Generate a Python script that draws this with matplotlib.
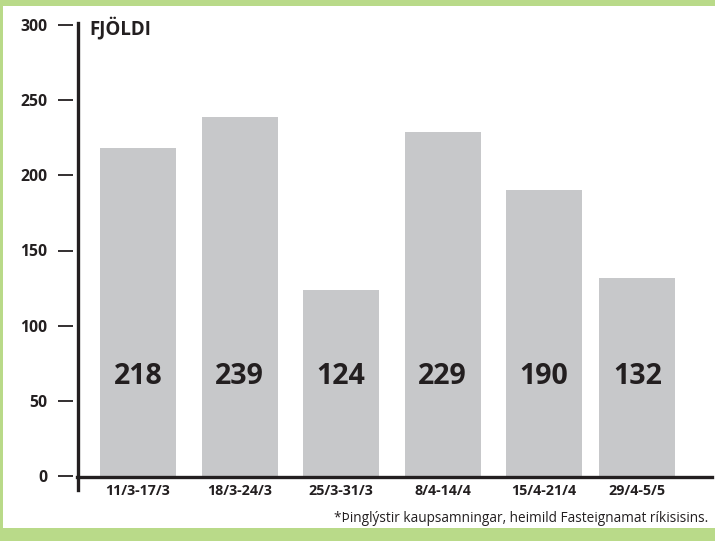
import numpy as np
import matplotlib
matplotlib.use("Agg")
import matplotlib.pyplot as plt
from matplotlib.patches import Rectangle
from matplotlib.lines import Line2D

categories = ["11/3-17/3", "18/3-24/3", "25/3-31/3", "8/4-14/4", "15/4-21/4", "29/4-5/5"]
values = [218, 239, 124, 229, 190, 132]
yticks = [0, 50, 100, 150, 200, 250, 300]
ylabel = "FJÖLDI"
footnote = "*Þinglýstir kaupsamningar, heimild Fasteignamat ríkisisins."

plt.rcParams['font.family'] = ['Open Sans', 'DejaVu Sans']

W, H = 715, 541
fig = plt.figure(figsize=(W / 100, H / 100), dpi=100)
green = "#b9da89"
ink = "#231f20"
fig.patch.set_facecolor(green)
fig.add_artist(Rectangle((3 / W, 1 - 528 / H), (W - 3) / W, (528 - 6) / H,
                         transform=fig.transFigure, facecolor="white", edgecolor="none", zorder=0))

def fx(px):
    return px / W

def fy(py):
    return 1 - py / H

ax_l, ax_r, ax_t, ax_b = 78, 712, 25, 476
ax = fig.add_axes([fx(ax_l), fy(ax_b), (ax_r - ax_l) / W, (ax_b - ax_t) / H])
ax.patch.set_alpha(0)

step = 101.5
pos = np.arange(len(values), dtype=float)
pos[-1] -= 0.08
ax.bar(pos, values, width=76 / step, color="#c7c8ca", zorder=1)
ax.set_xlim(-(138 - ax_l) / step, (ax_r - 138) / step)
ax.set_ylim(0, 300)

for s in ax.spines.values():
    s.set_visible(False)

for x, v in zip(pos, values):
    ax.text(x, 66, str(v), ha="center", va="center", fontsize=20.5, fontweight="bold", color=ink)

ax.set_xticks(pos, categories)
ax.set_yticks(yticks, [str(t) for t in yticks])
ax.tick_params(axis="x", length=0, pad=6, labelsize=10.3, labelcolor=ink)
ax.tick_params(axis="y", length=0, pad=22, labelsize=11.3, labelcolor=ink)
for lab in ax.get_xticklabels() + ax.get_yticklabels():
    lab.set_fontweight("bold")

# tick marks detached from axis
ytr = ax.get_yaxis_transform()
ax.hlines(yticks, (58 - ax_l) / (ax_r - ax_l), (73 - ax_l) / (ax_r - ax_l), transform=ytr,
          color=ink, lw=1.3, clip_on=False)

# axis lines
fig.add_artist(Line2D([fx(78), fx(78)], [fy(23), fy(490)], transform=fig.transFigure,
                      color=ink, lw=2.4))
fig.add_artist(Line2D([fx(77), fx(712)], [fy(477), fy(477)], transform=fig.transFigure,
                      color=ink, lw=2.4))

fig.text(fx(89), fy(28), ylabel, ha="left", va="center", fontsize=13.5, fontweight="bold", color=ink)
fig.text(fx(708), fy(518), footnote, ha="right", va="center", fontsize=9.8, color=ink)

fig.savefig("out.png", dpi=100, facecolor=fig.get_facecolor())
